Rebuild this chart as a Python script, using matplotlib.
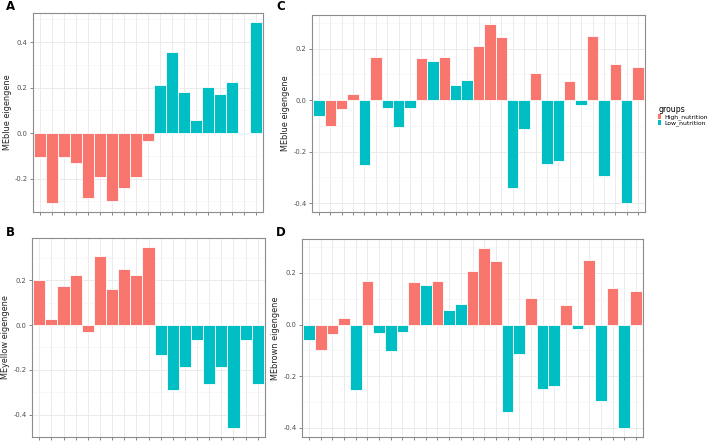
import matplotlib
matplotlib.use("Agg")
import matplotlib.pyplot as plt
from matplotlib.patches import Patch
from matplotlib.ticker import MultipleLocator
import numpy as np

RED = "#F8766D"
CYAN = "#00BFC4"

# Panel A: MEblue eigengene (19 samples)
a_values = [-0.103, -0.307, -0.103, -0.132, -0.286, -0.195, -0.300, -0.242, -0.195, -0.034,
            0.213, 0.355, 0.179, 0.059, 0.203, 0.173, 0.224, -0.006, 0.488]
a_groups = ["High"] * 10 + ["Low"] * 9

# Panel B: MEyellow eigengene (19 samples)
b_values = [0.200, 0.025, 0.175, 0.225, -0.029, 0.306, 0.161, 0.250, 0.224, 0.348,
            -0.135, -0.290, -0.188, -0.065, -0.264, -0.185, -0.459, -0.065, -0.265]
b_groups = ["High"] * 10 + ["Low"] * 9

# Panels C and D: MEblue / MEbrown eigengene (29 samples)
c_values = [-0.060, -0.099, -0.035, 0.024, -0.253, 0.168, -0.031, -0.103, -0.030, 0.165,
            0.153, 0.168, 0.058, 0.078, 0.209, 0.296, 0.245, -0.340, -0.112, 0.104,
            -0.250, -0.238, 0.074, -0.019, 0.251, -0.295, 0.141, -0.400, 0.129]
c_groups = ["Low", "High", "High", "High", "Low", "High", "Low", "Low", "Low", "High",
            "Low", "High", "Low", "Low", "High", "High", "High", "Low", "Low", "High",
            "Low", "Low", "High", "Low", "High", "Low", "High", "Low", "High"]
d_values = list(c_values)
d_groups = list(c_groups)

legend_title = "groups"
legend_labels = ["High_nutrition", "Low_nutrition"]
color_map = {"High": RED, "Low": CYAN}

W, H = 708, 445
fig = plt.figure(figsize=(W / 100, H / 100), dpi=100)
fig.patch.set_facecolor("white")


def make_ax(left, right, top, bottom):
    return fig.add_axes([left / W, 1 - bottom / H, (right - left) / W, (bottom - top) / H])


def draw(ax, values, groups, ylabel):
    n = len(values)
    x = np.arange(n)
    cols = [color_map[g] for g in groups]
    ax.set_axisbelow(True)
    ax.bar(x, values, width=1.0, color=cols, edgecolor="white", linewidth=0.6, zorder=2)
    ax.set_xlim(-0.6, n - 1 + 0.6)
    lo, hi = min(min(values), 0), max(max(values), 0)
    pad = (hi - lo) * 0.05
    ax.set_ylim(lo - pad, hi + pad)
    ax.yaxis.set_major_locator(MultipleLocator(0.2))
    ax.yaxis.set_minor_locator(MultipleLocator(0.1))
    ax.set_xticks(x)
    ax.set_xticklabels([])
    ax.grid(True, which="major", color="#EBEBEB", linewidth=0.7, zorder=0)
    ax.grid(True, which="minor", axis="y", color="#F3F3F3", linewidth=0.4, zorder=0)
    ax.tick_params(axis="both", which="major", length=2.5, width=0.5, color="#555555",
                   labelsize=4.9, labelcolor="#4D4D4D", pad=1.5)
    ax.tick_params(axis="y", which="minor", length=0)
    ax.yaxis.set_major_formatter(matplotlib.ticker.FuncFormatter(
        lambda v, p: "0.0" if abs(v) < 1e-9 else f"{v:.1f}"))
    for s in ax.spines.values():
        s.set_color("#8C8C8C")
        s.set_linewidth(0.8)
    ax.set_ylabel(ylabel, fontsize=5.9, color="#222222", labelpad=2)


axA = make_ax(33, 263, 13, 212)
axB = make_ax(32, 265, 238, 437)
axC = make_ax(312, 645, 15, 212)
axD = make_ax(302, 643, 239, 437)

draw(axA, a_values, a_groups, "MEblue eigengene")
draw(axB, b_values, b_groups, "MEyellow eigengene")
draw(axC, c_values, c_groups, "MEblue eigengene")
draw(axD, d_values, d_groups, "MEbrown eigengene")

for lab, (px, py) in zip("ABCD", [(6, 7), (6, 233), (276, 7), (276, 233)]):
    fig.text(px / W, 1 - py / H, lab, fontsize=8.5, fontweight="bold", ha="left", va="center")

handles = [Patch(facecolor=RED, edgecolor="none"), Patch(facecolor=CYAN, edgecolor="none")]
leg = fig.legend(handles, legend_labels, title=legend_title, loc="upper left",
                 bbox_to_anchor=(654 / W, 1 - 101 / H), frameon=False, fontsize=4.4,
                 title_fontsize=5.6, handlelength=0.5, handleheight=1.0, handletextpad=0.5,
                 labelspacing=-0.1, borderpad=0.2, alignment="left")

fig.savefig("out.png", dpi=100, facecolor="white")
